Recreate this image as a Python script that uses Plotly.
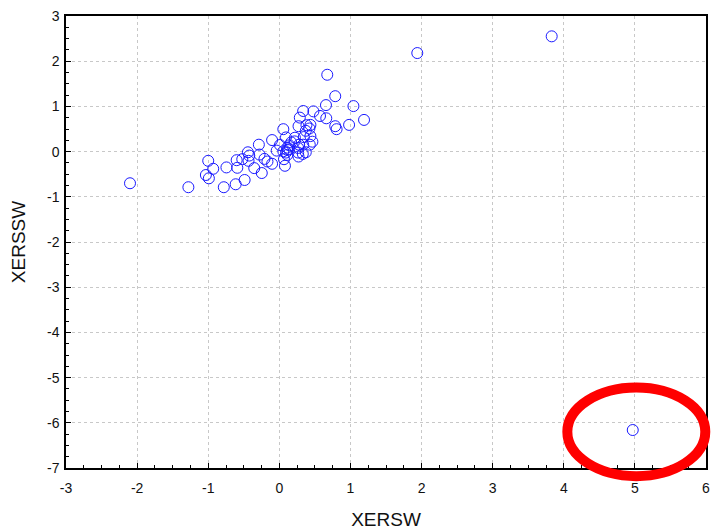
import plotly.graph_objects as go

xersw = [0.674, 0.786, 1.042, 1.191, 0.981, 0.786, 0.805, 0.656, 0.660, 0.572,
         0.479, 0.335, 0.288, 0.270, 0.381, 0.437, 0.056, 0.093, 0.219, 0.344,
         0.437, 0.465, 0.335, 0.279, 0.140, 0.009, -0.102, -0.288, -0.442, -0.423,
         -0.279, -0.209, -0.037, 0.093, 0.140, 0.112, 0.265, 0.372, 0.270, 0.065,
         0.079, -0.102, -0.247, -0.353, -0.433, -0.521, -0.600, -0.591, -0.744, -1.000,
         -0.930, -1.033, -0.991, -1.279, -0.781, -0.614, -0.488, 0.372, 0.423, 0.214,
         0.112, 0.056, 0.428, 0.167, -0.167, 0.112, 0.265, 0.330,
         -2.10, 1.94, 3.83, 4.97]
xerssw = [1.70, 1.226, 1.007, 0.701, 0.591, 0.562, 0.496, 1.029, 0.737, 0.788,
          0.890, 0.898, 0.752, 0.562, 0.584, 0.591, 0.496, 0.314, 0.307, 0.321,
          0.343, 0.219, 0.153, 0.153, 0.139, 0.146, 0.255, 0.153, -0.015, -0.088,
          -0.066, -0.161, 0.022, -0.022, 0.051, -0.073, -0.022, -0.015, -0.109, -0.168,
          -0.314, -0.270, -0.474, -0.365, -0.204, -0.168, -0.190, -0.358, -0.350, -0.204,
          -0.380, -0.518, -0.591, -0.788, -0.788, -0.723, -0.628, 0.460, 0.511, 0.226,
          0.088, 0.007, 0.153, 0.204, -0.219, 0.036, 0.080, -0.051,
          -0.70, 2.18, 2.55, -6.16]

x_ticks = list(range(-3, 7))
y_ticks = list(range(-7, 4))

fig = go.Figure(go.Scatter(
    x=xersw, y=xerssw, mode="markers",
    marker=dict(symbol="circle-open", size=11, color="#1a1aff", line=dict(width=1)),
    showlegend=False,
))

# red highlight ellipse (paper coords so it isn't clipped)
x0, x1 = -3, 6
y0, y1 = -7, 3
cx, cy, rx, ry = 5.02, -6.2, 0.97, 0.98
fig.add_shape(type="circle", xref="paper", yref="paper",
              x0=(cx - rx - x0) / (x1 - x0), x1=(cx + rx - x0) / (x1 - x0),
              y0=(cy - ry - y0) / (y1 - y0), y1=(cy + ry - y0) / (y1 - y0),
              line=dict(color="#ff0000", width=10))

font = "Liberation Sans, Arial"
axis_common = dict(
    showline=True, linecolor="black", linewidth=1.5, mirror=True,
    showgrid=True, gridcolor="#c8c8c8", griddash="dot", gridwidth=1,
    zeroline=False, ticks="inside", ticklen=5, tickcolor="black",
    tickfont=dict(family=font, size=14, color="#111"),
    minor=dict(ticks="inside", ticklen=3, dtick=0.25, tickcolor="black", showgrid=False),
)

fig.update_xaxes(range=[x0, x1], tickvals=x_ticks, ticktext=[str(v) for v in x_ticks],
                 ticklabelstandoff=6,
                 title=dict(text="XERSW", font=dict(family=font, size=19, color="#111"), standoff=18),
                 **axis_common)
fig.update_yaxes(range=[y0, y1], tickvals=y_ticks, ticktext=[str(v) for v in y_ticks],
                 ticklabelstandoff=2,
                 title=dict(text="XERSSW", font=dict(family=font, size=19, color="#111"), standoff=16),
                 **axis_common)

fig.update_layout(
    width=713, height=530,
    margin=dict(l=66, r=3, t=16, b=62),
    plot_bgcolor="white", paper_bgcolor="white",
)

fig.write_html("out.html")
